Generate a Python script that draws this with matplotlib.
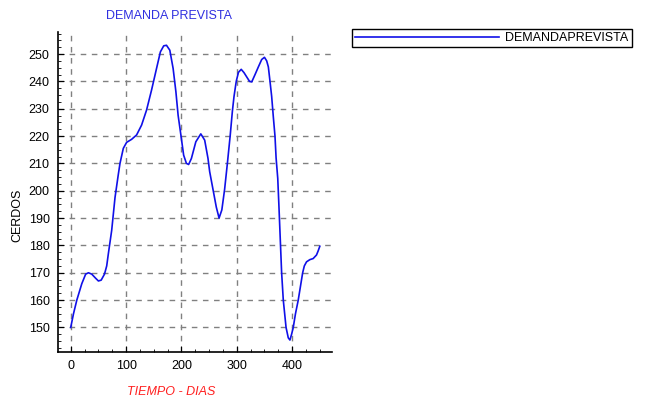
import matplotlib.pyplot as plt
from matplotlib.ticker import MultipleLocator

# values
dias = [0, 5, 11, 20, 27, 32, 38, 45, 50, 55, 61, 65, 68, 74, 80, 86, 89, 95,
        101, 110, 119, 128, 137, 146, 155, 162, 168, 173, 179, 185, 190, 194,
        199, 204, 209, 213, 218, 226, 235, 242, 248, 251, 257, 263, 268, 273,
        278, 283, 288, 292, 295, 299, 303, 308, 313, 318, 323, 327, 333, 339,
        345, 350, 354, 357, 360, 363, 366, 369, 371, 374, 376, 378, 381, 384,
        389, 393, 396, 399, 402, 406, 411, 415, 419, 422, 426, 432, 438, 444,
        447, 450]
cerdos = [150, 155, 160, 166, 169.5, 170, 169.5, 168, 167, 167.3, 169.5, 172.5,
          177, 185.5, 197.5, 206, 210, 215.5, 217.7, 218.8, 220.4, 224, 229.5,
          236.8, 244.7, 250.8, 253, 253.2, 251.4, 244.7, 236.2, 227.6, 220.4,
          213, 210, 209.6, 211.8, 217.9, 220.8, 218.5, 211.8, 207, 200.5, 194,
          190, 193, 200.5, 210, 220, 229, 234.5, 240, 243.3, 244.4, 243.2,
          241.6, 240, 239.8, 242.5, 245.3, 248, 248.8, 247.5, 245.3, 240,
          234.5, 227, 220, 212, 204.5, 195, 185, 170, 160, 150, 146.2, 145.4,
          147.5, 150, 155, 160, 165, 170, 172.5, 174, 174.8, 175.2, 176.5,
          178, 179.7]

plt.rcParams['font.family'] = ['Liberation Sans', 'DejaVu Sans']

fig = plt.figure(figsize=(6.56, 4.07), dpi=100)
ax = fig.add_axes([0.0884, 0.135, 0.4177, 0.786])

line, = ax.plot(dias, cerdos, color='#1010e8', linewidth=1.2)

ax.set_xlim(-23, 472)
ax.set_ylim(141, 258)
ax.xaxis.set_major_locator(MultipleLocator(100))
ax.xaxis.set_minor_locator(MultipleLocator(25))
ax.yaxis.set_major_locator(MultipleLocator(10))
ax.yaxis.set_minor_locator(MultipleLocator(2.5))
ax.set_yticks(range(150, 251, 10))

ax.grid(True, which='major', linestyle=(0, (4, 4)), color='#808080', linewidth=1)
for side in ['top', 'right']:
    ax.spines[side].set_visible(False)
ax.spines['left'].set_linewidth(1.2)
ax.spines['bottom'].set_linewidth(1.2)
ax.tick_params(which='major', direction='in', length=4, labelsize=9, pad=6)
ax.tick_params(which='minor', direction='in', length=2)

fig.text(169 / 656, 1 - 16 / 407, 'DEMANDA PREVISTA', color='#3030e0',
         fontsize=9, ha='center', va='center')
fig.text(171 / 656, 1 - 392 / 407, 'TIEMPO - DIAS', color='#ff2020',
         fontsize=9, style='italic', ha='center', va='center')
fig.text(17 / 656, 1 - 215 / 407, 'CERDOS', color='black', fontsize=9,
         rotation=90, ha='center', va='center')

leg = fig.legend([line], ['DEMANDAPREVISTA'], loc='upper left',
                 bbox_to_anchor=(352 / 656, 1 - 29 / 407), fontsize=9,
                 handlelength=11.5, fancybox=False, framealpha=1,
                 edgecolor='black', borderpad=0.25, handletextpad=0.5,
                 borderaxespad=0)
leg.get_frame().set_linewidth(1)

fig.savefig('out.png', dpi=100)
